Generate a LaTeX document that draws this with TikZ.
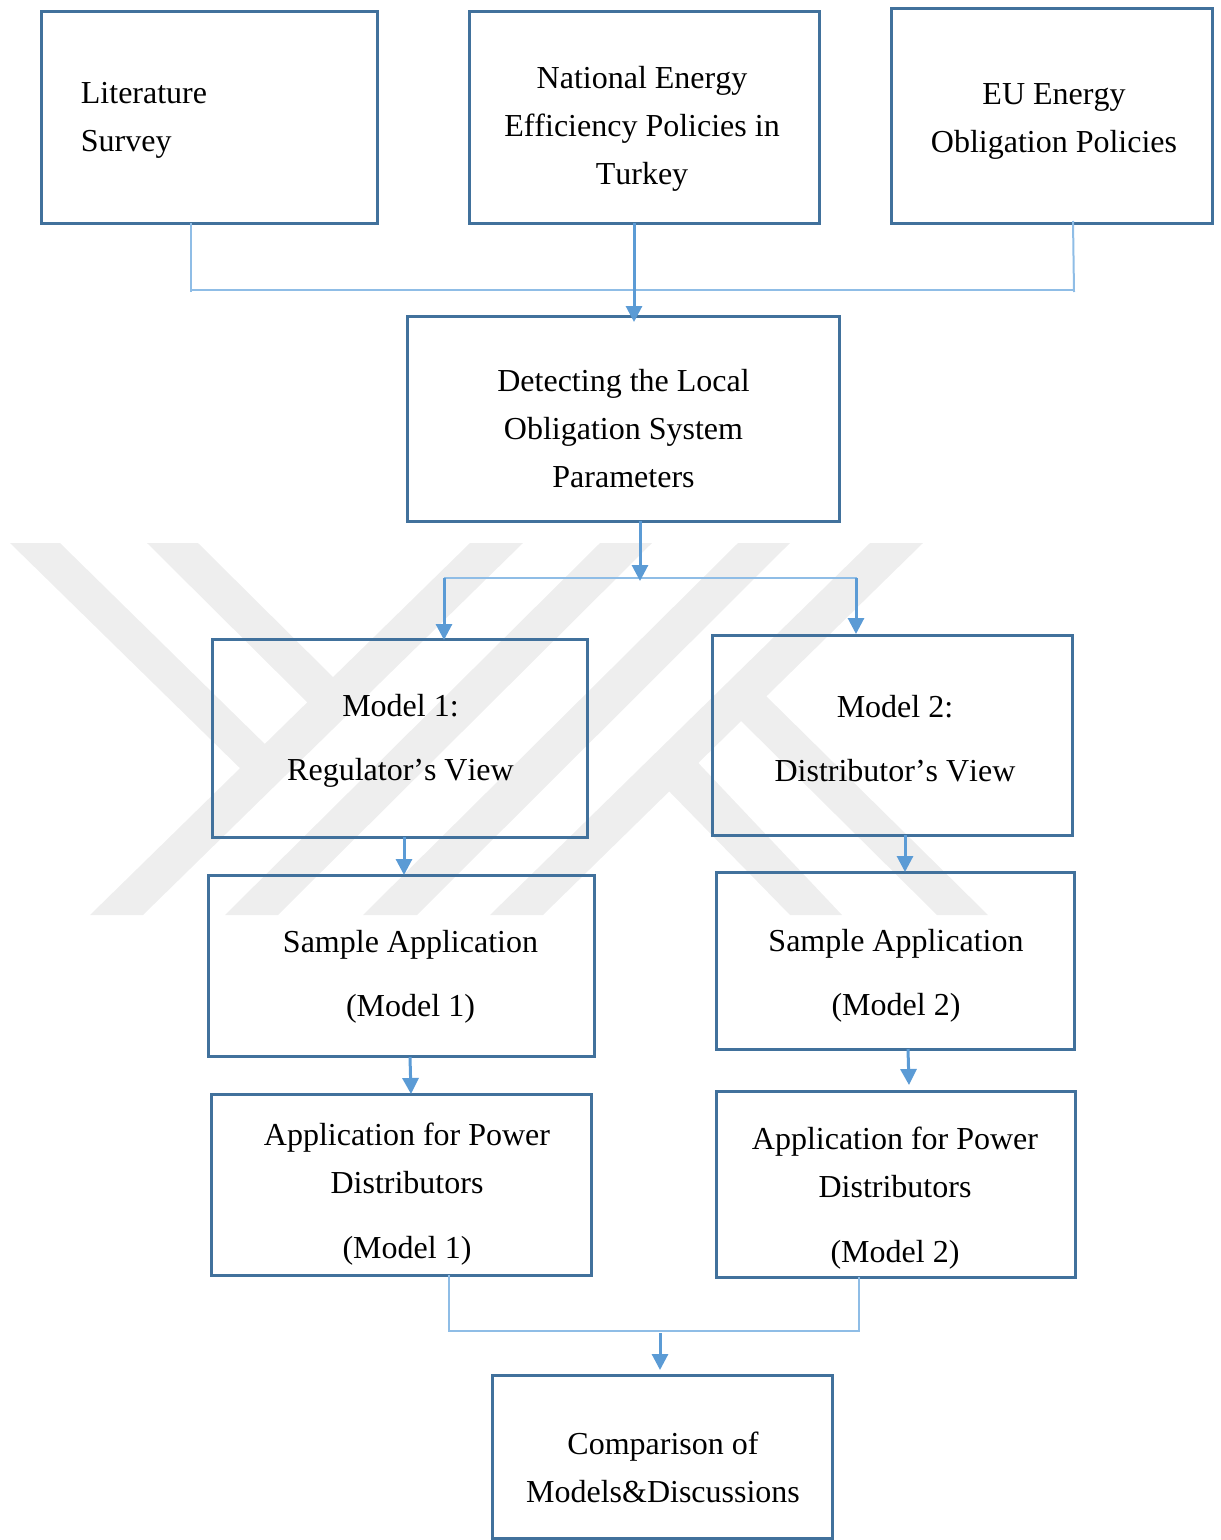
\documentclass[tikz,border=0pt]{standalone}
\usepackage{fontspec}
\setmainfont[Kerning=Off]{Liberation Serif}
\usetikzlibrary{arrows.meta}
\definecolor{boxblue}{HTML}{41719C}
\definecolor{arrowblue}{HTML}{5B9BD5}
\definecolor{lineblue}{HTML}{8FBDE6}
\definecolor{wmgray}{HTML}{EEEEEE}
% #1 column alignment, #2 x shift of the text from the box centre, #3 lift of the last baseline, #4 lines
\newcommand{\boxtext}[4][c]{\raisebox{#3}[0pt][0pt]{\makebox[0pt]{\hspace{#2}\hspace{#2}\begin{tabular}[b]{@{}#1@{}}#4\end{tabular}}}}
\tikzset{
  flowbox/.style={draw=boxblue,line width=3pt,rectangle,inner sep=0pt,outer sep=0pt,
    font=\fontsize{32}{48}\selectfont,text=black},
  wmark/.style={fill=wmgray,draw=none},
  thinlink/.style={draw=lineblue,line width=2pt},
  arrowlink/.style={draw=arrowblue,line width=3pt,-{Triangle[length=16pt,width=16pt]}}
}
\begin{document}
\begin{tikzpicture}[x=1pt,y=-1pt]
\useasboundingbox (0,0) rectangle (1221,1540);
% watermark
\fill[wmark] (90,915) -- (143,915) -- (523,543) -- (470,543) -- cycle;
\fill[wmark] (10,543) -- (60,543) -- (272,751) -- (250,778) -- cycle;
\fill[wmark] (147,543) -- (198,543) -- (343,687) -- (317,712) -- cycle;
\fill[wmark] (225,915) -- (278,915) -- (652,543) -- (600,543) -- cycle;
\fill[wmark] (363,915) -- (417,915) -- (790,543) -- (738,543) -- cycle;
\fill[wmark] (490,915) -- (543,915) -- (923,543) -- (870,543) -- cycle;
\fill[wmark] (732,712) -- (757,687) -- (988,915) -- (937,915) -- cycle;
\fill[wmark] (660,782) -- (688,752) -- (842,915) -- (790,915) -- cycle;
% boxes
\node[flowbox,minimum width=336pt,minimum height=212pt] (lit) at (209,117)
  {\boxtext[l]{-65pt}{-34pt}{Literature\\Survey}};
\node[flowbox,minimum width=350pt,minimum height=212pt] (nat) at (644,117)
  {\boxtext{-2pt}{-67pt}{National Energy\\Efficiency Policies in\\Turkey}};
\node[flowbox,minimum width=321pt,minimum height=215pt] (eu) at (1051.5,115.5)
  {\boxtext{2.5pt}{-36.5pt}{EU Energy\\Obligation Policies}};
\node[flowbox,minimum width=432pt,minimum height=205pt] (det) at (623,418.5)
  {\boxtext{0.5pt}{-68.5pt}{Detecting the Local\\Obligation System\\Parameters}};
\node[flowbox,minimum width=375pt,minimum height=198pt] (mone) at (399.5,738)
  {\boxtext{1pt}{-42pt}{Model 1:\\[16pt]Regulator’s View}};
\node[flowbox,minimum width=360pt,minimum height=200pt] (mtwo) at (892,735)
  {\boxtext{3pt}{-46pt}{Model 2:\\[16pt]Distributor’s View}};
\node[flowbox,minimum width=386pt,minimum height=181pt] (sone) at (401,965.5)
  {\boxtext{9.5pt}{-50.5pt}{Sample Application\\[16pt](Model 1)}};
\node[flowbox,minimum width=358pt,minimum height=177pt] (stwo) at (895,960.5)
  {\boxtext{1pt}{-54.5pt}{Sample Application\\[16pt](Model 2)}};
\node[flowbox,minimum width=380pt,minimum height=181pt] (aone) at (401,1184.5)
  {\boxtext{6pt}{-74.25pt}{Application for Power\\Distributors\\[17pt](Model 1)}};
\node[flowbox,minimum width=359pt,minimum height=186pt] (atwo) at (895.5,1184)
  {\boxtext{-0.5pt}{-78.75pt}{Application for Power\\Distributors\\[17pt](Model 2)}};
\node[flowbox,minimum width=340pt,minimum height=163pt] (comp) at (662,1456.5)
  {\boxtext{1pt}{-45.5pt}{Comparison of\\Models\&Discussions}};
% junction points
\coordinate (tl) at (191,292);
\coordinate (tlh) at (191,290);
\coordinate (trs) at (1073,221);
\coordinate (tr) at (1074,292);
\coordinate (trh) at (1074,290);
\coordinate (tin) at (634,322);
\coordinate (mout) at (640,581);
\coordinate (ml) at (444,578);
\coordinate (mr) at (857,578);
\coordinate (mlin) at (444,640);
\coordinate (mrin) at (856,634);
\coordinate (bl) at (449,1331);
\coordinate (br) at (859,1331);
\coordinate (bin) at (660,1333);
\coordinate (bout) at (660,1370);
\coordinate (aa) at (404,875);
\coordinate (bb) at (905,872);
\coordinate (cs) at (410,1057);
\coordinate (cc) at (411,1094);
\coordinate (ds) at (908,1049);
\coordinate (dd) at (909,1085);
% thin connectors
\draw[thinlink] (lit.south -| tl) -- (tl);
\draw[thinlink] (tlh) -- (trh);
\draw[thinlink] (trs) -- (tr);
\draw[thinlink] (ml) -- (mr);
\draw[thinlink] (aone.south -| bl) -- (bl) -- (br) -- (atwo.south -| br);
% arrows
\draw[arrowlink] (nat.south -| tin) -- (tin);
\draw[arrowlink] (det.south -| mout) -- (mout);
\draw[arrowlink] (ml) -- (mlin);
\draw[arrowlink] (mrin |- mr) -- (mrin);
\draw[arrowlink] (mone.south -| aa) -- (aa);
\draw[arrowlink] (mtwo.south -| bb) -- (bb);
\draw[arrowlink] (cs) -- (cc);
\draw[arrowlink] (ds) -- (dd);
\draw[arrowlink] (bin) -- (bout);
\end{tikzpicture}
\end{document}
